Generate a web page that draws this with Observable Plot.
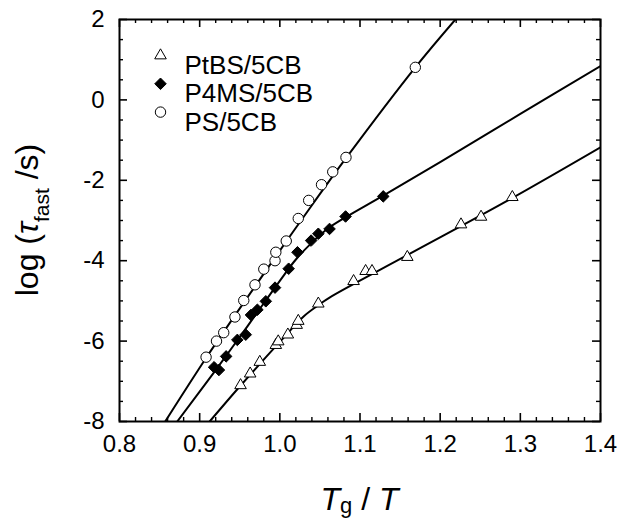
<!DOCTYPE html>
<html>
<head>
<meta charset="utf-8">
<script src="https://cdn.jsdelivr.net/npm/d3@7"></script>
<script src="https://cdn.jsdelivr.net/npm/@observablehq/plot@0.6"></script>
<style>
  html, body { margin: 0; padding: 0; background: #fff; }
  #chart { width: 624px; height: 519px; }
</style>
</head>
<body>
<div id="chart"></div>
<script>
// ---------- data ----------
const seriesNames = ["PtBS/5CB", "P4MS/5CB", "PS/5CB"];

// PtBS/5CB (open triangles)
const ptbsX = [0.951, 0.963, 0.975, 0.995, 0.998, 1.010, 1.021, 1.023, 1.048, 1.092, 1.107, 1.115, 1.159, 1.226, 1.251, 1.290];
const ptbsY = [-7.10, -6.81, -6.52, -6.10, -6.01, -5.84, -5.60, -5.50, -5.07, -4.51, -4.26, -4.26, -3.91, -3.10, -2.91, -2.42];

// P4MS/5CB (filled diamonds)
const p4msX = [0.918, 0.924, 0.933, 0.947, 0.9575, 0.964, 0.972, 0.9825, 0.994, 1.011, 1.022, 1.039, 1.048, 1.062, 1.082, 1.129];
const p4msY = [-6.65, -6.72, -6.38, -5.97, -5.84, -5.35, -5.22, -5.01, -4.67, -4.20, -3.79, -3.50, -3.33, -3.21, -2.90, -2.40];

// PS/5CB (open circles)
const psX = [0.908, 0.921, 0.930, 0.944, 0.955, 0.969, 0.980, 0.994, 0.995, 1.008, 1.023, 1.036, 1.052, 1.066, 1.0825, 1.169];
const psY = [-6.40, -6.00, -5.79, -5.40, -4.99, -4.60, -4.21, -4.00, -3.79, -3.51, -2.95, -2.50, -2.11, -1.79, -1.43, 0.81];

// fitted curves (vertices)
const ptbsFitX = [0.9125, 0.95, 1.0, 1.03, 1.05, 1.0625, 1.16, 1.2846, 1.4];
const ptbsFitY = [-8, -7.13, -6.02, -5.38, -5.08, -4.91, -3.85, -2.50, -1.18];
const p4msFitX = [0.872, 0.92, 0.96, 1.0, 1.02, 1.04, 1.06, 1.082, 1.129, 1.2, 1.3, 1.4];
const p4msFitY = [-8, -6.72, -5.62, -4.5, -3.97, -3.55, -3.2, -2.92, -2.38, -1.55, -0.35, 0.84];
const psFitX = [0.857, 0.908, 0.96, 1.0, 1.04, 1.0825, 1.169, 1.219];
const psFitY = [-8, -6.42, -4.9, -3.75, -2.62, -1.45, 0.81, 2.0];

// axes
const xMajor = [0.8, 0.9, 1.0, 1.1, 1.2, 1.3, 1.4];
const xMinor = [0.82, 0.84, 0.86, 0.88, 0.92, 0.94, 0.96, 0.98, 1.02, 1.04, 1.06, 1.08, 1.12, 1.14, 1.16, 1.18, 1.22, 1.24, 1.26, 1.28, 1.32, 1.34, 1.36, 1.38];
const yMajor = [-8, -6, -4, -2, 0, 2];
const yMinor = [-7.5, -7, -6.5, -5.5, -5, -4.5, -3.5, -3, -2.5, -1.5, -1, -0.5, 0.5, 1, 1.5];

// ---------- build tables ----------
const zip = (xs, ys) => xs.map((x, i) => ({x, y: ys[i]}));
const ptbs = zip(ptbsX, ptbsY), p4ms = zip(p4msX, p4msY), ps = zip(psX, psY);
const ptbsFit = zip(ptbsFitX, ptbsFitY), p4msFit = zip(p4msFitX, p4msFitY), psFit = zip(psFitX, psFitY);

const W = 624, H = 519, mL = 119, mR = 24, mT = 19, mB = 98;
const fw = W - mL - mR, fh = H - mT - mB;
const FONT = "'Liberation Sans', Arial, Helvetica, sans-serif";

const styles = [
  {symbol: "triangle", r: 4.3, fill: "white", stroke: "black", strokeWidth: 1},
  {symbol: "diamond2", r: 5.2, fill: "black", stroke: "black", strokeWidth: 1},
  {symbol: "circle", r: 5.2, fill: "white", stroke: "black", strokeWidth: 1}
];

const legendMarks = seriesNames.flatMap((name, i) => [
  Plot.dot([name], {frameAnchor: "top-left", dx: 41, dy: 36 + i * 28.3, ...styles[i]}),
  Plot.text([name], {frameAnchor: "top-left", dx: 65, dy: 36 + i * 28.3, text: d => d,
    textAnchor: "start", fontSize: 26, fill: "black"})
]);

const chart = Plot.plot({
  width: W, height: H,
  marginLeft: mL, marginRight: mR, marginTop: mT, marginBottom: mB,
  x: {domain: [0.8, 1.4], label: null},
  y: {domain: [-8, 2], label: null},
  style: {fontFamily: FONT, color: "black", background: "white"},
  marks: [
    // inward ticks on all four sides
    Plot.ruleX(xMajor, {insetTop: fh - 8, stroke: "black", strokeWidth: 1.6}),
    Plot.ruleX(xMinor, {insetTop: fh - 4, stroke: "black", strokeWidth: 1.4}),
    Plot.ruleX(xMajor, {insetBottom: fh - 8, stroke: "black", strokeWidth: 1.6}),
    Plot.ruleX(xMinor, {insetBottom: fh - 4, stroke: "black", strokeWidth: 1.4}),
    Plot.ruleY(yMajor, {insetRight: fw - 8, stroke: "black", strokeWidth: 1.6}),
    Plot.ruleY(yMinor, {insetRight: fw - 4, stroke: "black", strokeWidth: 1.4}),
    Plot.ruleY(yMajor, {insetLeft: fw - 8, stroke: "black", strokeWidth: 1.6}),
    Plot.ruleY(yMinor, {insetLeft: fw - 4, stroke: "black", strokeWidth: 1.4}),
    // tick labels
    Plot.axisX(xMajor, {anchor: "bottom", tickSize: 0, tickPadding: 13, tickFormat: d3.format(".1f"),
      fontSize: 24, label: null}),
    Plot.axisY(yMajor, {anchor: "left", tickSize: 0, tickPadding: 15, tickFormat: d => String(d),
      fontSize: 24, label: null}),
    // fitted curves
    Plot.line(ptbsFit, {x: "x", y: "y", stroke: "black", strokeWidth: 2, curve: "catmull-rom", clip: true}),
    Plot.line(p4msFit, {x: "x", y: "y", stroke: "black", strokeWidth: 2, curve: "catmull-rom", clip: true}),
    Plot.line(psFit, {x: "x", y: "y", stroke: "black", strokeWidth: 2, curve: "catmull-rom", clip: true}),
    // data points
    Plot.dot(ptbs, {x: "x", y: "y", ...styles[0]}),
    Plot.dot(p4ms, {x: "x", y: "y", ...styles[1]}),
    Plot.dot(ps, {x: "x", y: "y", ...styles[2]}),
    ...legendMarks,
    Plot.frame({stroke: "black", strokeWidth: 2})
  ]
});

const svg = d3.select(chart);
// y-axis title: log (τ_fast /s)
const yt = svg.append("text")
  .attr("transform", `translate(38,${mT + fh / 2}) rotate(-90)`)
  .attr("text-anchor", "middle")
  .attr("font-family", FONT).attr("font-size", 32).attr("fill", "black");
yt.append("tspan").text("log (");
yt.append("tspan").attr("font-style", "italic").text("τ");
yt.append("tspan").attr("font-size", 21).attr("dy", 11).text("fast");
yt.append("tspan").attr("dy", -11).text(" /s)");

// x-axis title: T_g / T
const xt = svg.append("text")
  .attr("x", mL + fw / 2).attr("y", 510)
  .attr("text-anchor", "middle")
  .attr("font-family", FONT).attr("font-size", 32).attr("fill", "black");
xt.append("tspan").attr("font-style", "italic").text("T");
xt.append("tspan").attr("font-size", 22).attr("dy", 3).text("g");
xt.append("tspan").attr("dy", -3).text(" / ");
xt.append("tspan").attr("font-style", "italic").text("T");

document.getElementById("chart").appendChild(chart);
</script>
</body>
</html>
